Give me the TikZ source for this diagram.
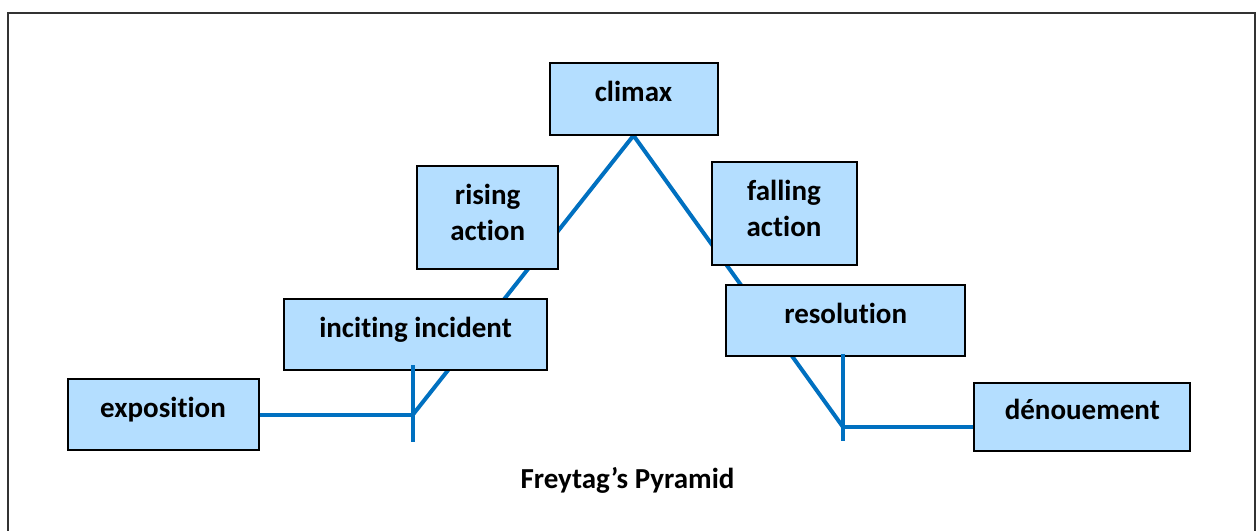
\documentclass[tikz,border=0pt]{standalone}
\usepackage{fontspec}
\setmainfont{Carlito}[Ligatures=NoCommon]
\usepackage{xcolor}
\usepackage{tikz}
\usetikzlibrary{positioning, backgrounds}

\definecolor{boxblue}{RGB}{180,222,255}
\definecolor{lineblue}{RGB}{0,112,192}

\begin{document}
\begin{tikzpicture}[
        x=0.5pt, y=-0.5pt,
        block/.style={rectangle, draw, line width=1pt, fill=boxblue, align=center, inner sep=0pt, font=\fontsize{14.5pt}{18pt}\selectfont\bfseries},
        oneline/.style={text height=0.75em, text depth=0.5em},
        twoline/.style={text depth=5pt},
        plot/.style={draw=lineblue, line width=2pt}
        ]

        \useasboundingbox (0,0) rectangle (1256,530);
        \draw[line width=0.6pt, black!80] (8,540) -- (8,13) -- (1255,13) -- (1255,540);

        \node[block, oneline, minimum width=84pt, minimum height=36pt] (climax) at (633.5,98.5) {climax};
        \node[block, twoline, minimum width=70.5pt, minimum height=51.5pt] (rising) at (487.7,217.8) {rising\\action};
        \node[block, twoline, minimum width=72.5pt, minimum height=51.5pt] (falling) at (784,213) {falling\\action};
        \node[block, oneline, minimum width=131.5pt, minimum height=35.5pt] (inciting) at (415.5,334.8) {inciting incident};
        \node[block, oneline, minimum width=119.5pt, minimum height=35.5pt] (resolution) at (845.7,320.8) {resolution};
        \node[block, oneline, minimum width=95.5pt, minimum height=35.5pt] (exposition) at (163,414.5) {exposition};
        \node[block, oneline, minimum width=108pt, minimum height=34pt] (denouement) at (1082.3,416.7) {dénouement};

        \node[anchor=base, font=\fontsize{14.5pt}{18pt}\selectfont\bfseries] (title) at (627.5,488) {Freytag’s Pyramid};

        \coordinate (rise) at (413,414.5);
        \coordinate (fall) at (843,427);

        % the pyramid runs behind the boxes
        \begin{pgfonlayer}{background}
            \draw[plot] (rise) -- (climax.south) -- (fall);
        \end{pgfonlayer}

        \draw[plot] (exposition.east) -- (rise);
        \draw[plot] (fall) -- (fall -| denouement.west);
        \draw[plot] (413,365) -- (413,442);
        \draw[plot] (843,354) -- (843,441);

    \end{tikzpicture}
\end{document}
